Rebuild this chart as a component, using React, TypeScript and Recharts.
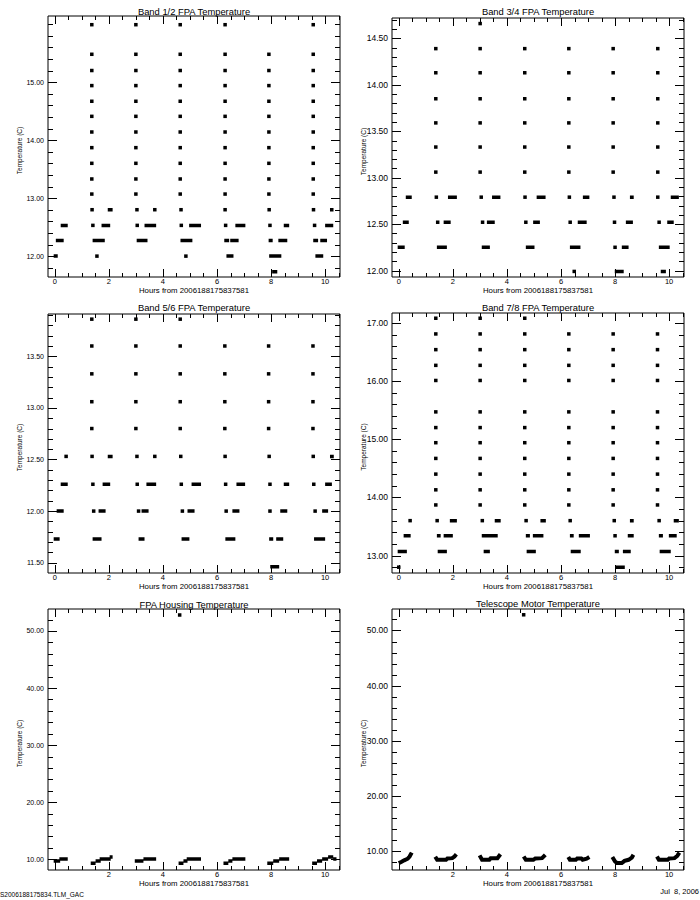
import React from "react";
import { ComposedChart, Scatter, Line, XAxis, YAxis } from "recharts";

const FONT = "'Liberation Sans', Arial, Helvetica, sans-serif";
const X_DOMAIN: [number, number] = [-0.25, 10.55];
const X_MAJOR = [0, 2, 4, 6, 8, 10];
const X_LABELS_NO0 = [2, 4, 6, 8, 10];
const HOURS_LABEL = "Hours from 2006188175837581";
const Y_LABEL = "Temperature (C)";

// ---- Band 1/2 ----
const b12ColX = [1.37, 3.0, 4.64, 6.3, 7.92, 9.56];
const b12ColLevels = [
  [15.99, 15.48, 15.2, 14.94, 14.67, 14.41, 14.14, 13.87, 13.6, 13.33, 13.07],
  [15.99, 15.48, 15.2, 14.94, 14.67, 14.41, 14.14, 13.87, 13.6, 13.33, 13.07],
  [15.99, 15.48, 15.2, 14.94, 14.67, 14.41, 14.14, 13.87, 13.6, 13.33, 13.07],
  [15.99, 15.48, 15.2, 14.94, 14.67, 14.41, 14.14, 13.87, 13.6, 13.33, 13.07],
  [15.48, 15.2, 14.94, 14.67, 14.41, 14.14, 13.87, 13.6, 13.33, 13.07],
  [15.99, 15.48, 15.2, 14.94, 14.67, 14.41, 14.14, 13.87, 13.6, 13.33, 13.07],
];
const b12Dots = [
  [1.38, 12.8], [3.04, 12.8], [3.7, 12.8], [4.67, 12.8], [6.3, 12.8], [7.93, 12.8], [9.57, 12.8],
  [1.41, 12.53], [3.05, 12.53], [4.68, 12.53], [6.32, 12.53], [7.96, 12.53], [9.61, 12.53],
  [1.56, 12.0], [4.85, 12.0],
];
const b12Runs = [
  [1.96, 2.14, 12.8], [10.18, 10.31, 12.8],
  [0.22, 0.48, 12.53], [1.73, 2.05, 12.53], [3.32, 3.75, 12.53], [4.97, 5.41, 12.53],
  [6.68, 7.05, 12.53], [8.47, 8.67, 12.53], [10.0, 10.3, 12.53],
  [0.04, 0.33, 12.27], [1.4, 1.85, 12.27], [3.03, 3.43, 12.27], [4.65, 5.09, 12.27],
  [6.27, 6.45, 12.27], [6.49, 6.8, 12.27], [7.91, 8.06, 12.27], [8.27, 8.6, 12.27],
  [9.56, 9.74, 12.27], [9.82, 10.07, 12.27],
  [-0.04, 0.11, 12.0], [6.35, 6.61, 12.0], [7.93, 8.38, 12.0], [9.64, 9.93, 12.0],
  [8.04, 8.23, 11.73],
];

// ---- Band 3/4 ----
const b34ColX = [1.37, 3.01, 4.66, 6.29, 7.93, 9.58];
const b34ColLevels = [
  [14.39, 14.13, 13.85, 13.59, 13.33, 13.06],
  [14.66, 14.39, 14.13, 13.85, 13.59, 13.33, 13.06],
  [14.39, 14.13, 13.85, 13.59, 13.33, 13.06],
  [14.39, 14.13, 13.85, 13.59, 13.33, 13.06],
  [14.39, 14.13, 13.85, 13.59, 13.33, 13.06],
  [14.39, 14.13, 13.85, 13.59, 13.33, 13.06],
];
const b34Dots = [
  [1.39, 12.79], [3.05, 12.79], [4.67, 12.79], [6.31, 12.79], [7.96, 12.79], [9.58, 12.79],
  [1.44, 12.52], [3.1, 12.52], [4.7, 12.52], [6.34, 12.52], [7.98, 12.52], [9.63, 12.52],
  [8.0, 12.25], [6.49, 11.99],
];
const b34Runs = [
  [0.26, 0.48, 12.79], [1.82, 2.15, 12.79], [3.45, 3.76, 12.79], [5.1, 5.43, 12.79],
  [6.81, 7.05, 12.79], [8.55, 8.69, 12.79], [10.06, 10.36, 12.79],
  [0.15, 0.37, 12.52], [1.66, 1.92, 12.52], [3.26, 3.55, 12.52], [4.97, 5.22, 12.52],
  [6.62, 6.95, 12.52], [8.4, 8.66, 12.52], [9.93, 10.17, 12.52],
  [-0.04, 0.22, 12.25], [1.41, 1.78, 12.25], [3.07, 3.37, 12.25], [4.7, 5.02, 12.25],
  [6.33, 6.72, 12.25], [8.25, 8.5, 12.25], [9.62, 10.02, 12.25],
  [7.99, 8.32, 11.99], [9.69, 9.88, 11.99],
];

// ---- Band 5/6 ----
const b56ColX = [1.37, 3.0, 4.64, 6.29, 7.91, 9.55];
const b56ColLevels = [
  [13.86, 13.6, 13.33, 13.06, 12.8],
  [13.86, 13.6, 13.33, 13.06, 12.8],
  [13.86, 13.6, 13.33, 13.06, 12.8],
  [13.6, 13.33, 13.06, 12.8],
  [13.6, 13.33, 13.06, 12.8],
  [13.6, 13.33, 13.06, 12.8],
];
const b56Dots = [
  [0.42, 12.53], [1.38, 12.53], [3.04, 12.53], [3.7, 12.53], [4.66, 12.53], [6.3, 12.53],
  [7.93, 12.53], [9.56, 12.53],
  [1.41, 12.26], [3.05, 12.26], [4.68, 12.26], [6.32, 12.26], [7.96, 12.26], [9.58, 12.26],
  [1.44, 12.0], [3.1, 12.0], [4.72, 12.0], [6.34, 12.0], [7.96, 12.0], [9.63, 12.0],
];
const b56Runs = [
  [1.96, 2.14, 12.53], [10.18, 10.32, 12.53],
  [0.22, 0.48, 12.26], [1.77, 2.05, 12.26], [3.39, 3.75, 12.26], [5.06, 5.41, 12.26],
  [6.72, 7.04, 12.26], [8.47, 8.67, 12.26], [10.0, 10.25, 12.26],
  [0.07, 0.33, 12.0], [1.62, 1.88, 12.0], [3.21, 3.47, 12.0], [4.91, 5.17, 12.0],
  [6.57, 6.83, 12.0], [8.34, 8.6, 12.0], [9.89, 10.11, 12.0],
  [-0.04, 0.18, 11.73], [1.4, 1.73, 11.73], [3.1, 3.32, 11.73], [4.69, 4.98, 11.73],
  [6.31, 6.68, 11.73], [7.93, 8.08, 11.73], [8.19, 8.45, 11.73], [9.59, 10.0, 11.73],
  [7.97, 8.3, 11.46],
];

// ---- Band 7/8 ----
const b78ColX = [1.37, 3.01, 4.66, 6.29, 7.93, 9.57];
const b78ColLevels = [
  [17.08, 16.81, 16.54, 16.27, 16.01, 15.47, 15.2, 14.94, 14.67, 14.4, 14.13, 13.87],
  [17.08, 16.81, 16.54, 16.27, 16.01, 15.47, 15.2, 14.94, 14.67, 14.4, 14.13, 13.87],
  [17.08, 16.81, 16.54, 16.27, 16.01, 15.47, 15.2, 14.94, 14.67, 14.4, 14.13, 13.87],
  [16.81, 16.54, 16.27, 16.01, 15.47, 15.2, 14.94, 14.67, 14.4, 14.13, 13.87],
  [16.81, 16.54, 16.27, 16.01, 15.47, 15.2, 14.94, 14.67, 14.4, 14.13, 13.87],
  [16.81, 16.54, 16.27, 16.01, 15.47, 15.2, 14.94, 14.67, 14.4, 14.13, 13.87],
];
const b78Dots = [
  [0.42, 13.6], [1.42, 13.6], [3.09, 13.6], [4.71, 13.6], [6.34, 13.6], [7.97, 13.6], [9.63, 13.6],
  [8.0, 13.34], [0.0, 12.8],
];
const b78Runs = [
  [1.89, 2.15, 13.6], [3.55, 3.77, 13.6], [5.24, 5.44, 13.6], [8.55, 8.69, 13.6], [10.17, 10.36, 13.6],
  [0.18, 0.44, 13.34], [1.41, 1.55, 13.34], [1.66, 2.0, 13.34], [3.07, 3.66, 13.34],
  [4.7, 4.85, 13.34], [4.96, 5.35, 13.34], [6.33, 6.47, 13.34], [6.66, 7.07, 13.34],
  [8.47, 8.69, 13.34], [9.62, 9.77, 13.34], [9.99, 10.28, 13.34],
  [-0.04, 0.3, 13.07], [1.44, 1.78, 13.07], [3.14, 3.37, 13.07], [4.73, 5.07, 13.07],
  [6.36, 6.73, 13.07], [7.99, 8.14, 13.07], [8.29, 8.58, 13.07], [9.65, 10.06, 13.07],
  [8.03, 8.36, 12.8],
];

// ---- FPA Housing ----
const housingDots = [[4.62, 52.8]];
const housingRuns = [
  [-0.04, 0.2, 9.7], [0.17, 0.48, 10.05],
  [1.33, 1.51, 9.3], [1.51, 1.7, 9.7], [1.66, 2.07, 10.05], [2.03, 2.14, 10.4],
  [2.96, 3.28, 9.7], [3.28, 3.75, 10.05],
  [4.58, 4.76, 9.3], [4.76, 4.91, 9.7], [4.88, 5.41, 10.05],
  [6.24, 6.42, 9.3], [6.42, 6.57, 9.7], [6.57, 7.05, 10.05],
  [7.86, 8.08, 9.3], [8.08, 8.3, 9.7], [8.3, 8.67, 10.05],
  [9.52, 9.7, 9.3], [9.7, 9.89, 9.7], [9.89, 10.11, 10.05], [10.11, 10.3, 10.4], [10.3, 10.42, 10.05],
];

// ---- Telescope Motor ----
const motorDots = [[4.62, 52.85]];
const motorCurves = [
  [[0.0, 7.8], [0.09, 8.0], [0.2, 8.3], [0.33, 8.6], [0.4, 9.0], [0.48, 9.7]],
  [[1.35, 8.95], [1.42, 8.4], [1.75, 8.4], [1.8, 8.65], [1.98, 8.7], [2.06, 9.0], [2.13, 9.4]],
  [[2.99, 9.2], [3.08, 8.4], [3.35, 8.4], [3.4, 8.7], [3.65, 8.7], [3.76, 9.4]],
  [[4.62, 9.0], [4.7, 8.4], [4.98, 8.4], [5.05, 8.65], [5.3, 8.7], [5.42, 9.3]],
  [[6.27, 8.9], [6.33, 8.4], [6.55, 8.4], [6.6, 8.65], [6.75, 8.65], [6.8, 8.4], [6.95, 8.6], [7.05, 8.9]],
  [[7.9, 8.9], [8.0, 8.1], [8.07, 7.8], [8.25, 7.8], [8.35, 8.2], [8.5, 8.4], [8.62, 8.8], [8.68, 9.3]],
  [[9.55, 9.0], [9.62, 8.4], [9.95, 8.4], [10.0, 8.65], [10.2, 8.7], [10.3, 9.1], [10.38, 9.7]],
];

// ---- helpers ----
const colPoints = (xs: number[], levels: number[][]) =>
  xs.flatMap((x, i) => levels[i].map((y) => ({ x, y })));
const pairPoints = (arr: number[][]) => arr.map(([x, y]) => ({ x, y }));
const runPoints = (runs: number[][]) =>
  runs.flatMap(([x1, x2, y]) => [{ x: x1, y }, { x: x2, y }, { x: x2, y: null }]);
const curvePoints = (curves: number[][][]) =>
  curves.flatMap((c) => [...c.map(([x, y]) => ({ x, y })), { x: c[c.length - 1][0], y: null }]);

function stepTicks(lo: number, hi: number, step: number) {
  const out: number[] = [];
  for (let k = Math.ceil(lo / step - 1e-9); k * step <= hi + 1e-9; k++) {
    out.push(Math.round(k * step * 1000) / 1000);
  }
  return out;
}
const isIn = (v: number, list: number[]) => list.some((m) => Math.abs(m - v) < 1e-6);

const Square = (p: any) => <rect x={p.cx - 1.75} y={p.cy - 1.75} width={3.5} height={3.5} fill="#000" />;

// inward tick marks on all four sides of the frame, placed through the axis scales
const TickMark = (p: any) => {
  const d = p.payload ?? p;
  const len = d.len as number;
  const cx = Math.round(p.cx);
  const cy = Math.round(p.cy);
  if (d.side === "b") return <rect x={cx} y={cy - len} width={1} height={len} fill="#000" />;
  if (d.side === "t") return <rect x={cx} y={cy} width={1} height={len} fill="#000" />;
  if (d.side === "l") return <rect x={cx} y={cy} width={len} height={1} fill="#000" />;
  return <rect x={cx - len} y={cy} width={len} height={1} fill="#000" />;
};

type PanelCfg = {
  title: string;
  titleY: number;
  left: number;
  top: number;
  height: number;
  // plot-area insets inside the 350 px wide box
  margin: { top: number; right: number; bottom: number; left: number };
  yDomain: [number, number];
  yMajor: number[];
  yMinor: number;
  yFont: number;
  xLabels: number[];
  dots: { x: number; y: number }[];
  lines: { x: number; y: number | null }[];
  lineWidth: number;
};

const panels: PanelCfg[] = [
  {
    title: "Band 1/2 FPA Temperature", titleY: 11, left: 0, top: 0, height: 298,
    margin: { top: 16, right: 10, bottom: 21, left: 48 },
    yDomain: [11.64, 16.14], yMajor: [12, 13, 14, 15], yMinor: 0.2, yFont: 7, xLabels: X_MAJOR,
    dots: [...colPoints(b12ColX, b12ColLevels), ...pairPoints(b12Dots)],
    lines: runPoints(b12Runs), lineWidth: 3.5,
  },
  {
    title: "Band 3/4 FPA Temperature", titleY: 11, left: 350, top: 0, height: 298,
    margin: { top: 18, right: 16, bottom: 21, left: 42 },
    yDomain: [11.93, 14.72], yMajor: [12, 12.5, 13, 13.5, 14, 14.5], yMinor: 0.1, yFont: 8.5, xLabels: X_MAJOR,
    dots: [...colPoints(b34ColX, b34ColLevels), ...pairPoints(b34Dots)],
    lines: runPoints(b34Runs), lineWidth: 3.5,
  },
  {
    title: "Band 5/6 FPA Temperature", titleY: 307, left: 0, top: 298, height: 298,
    margin: { top: 16, right: 10, bottom: 23, left: 48 },
    yDomain: [11.4, 13.91], yMajor: [11.5, 12, 12.5, 13, 13.5], yMinor: 0.1, yFont: 7, xLabels: X_MAJOR,
    dots: [...colPoints(b56ColX, b56ColLevels), ...pairPoints(b56Dots)],
    lines: runPoints(b56Runs), lineWidth: 3.5,
  },
  {
    title: "Band 7/8 FPA Temperature", titleY: 307, left: 350, top: 298, height: 298,
    margin: { top: 15, right: 16, bottom: 23, left: 42 },
    yDomain: [12.7, 17.17], yMajor: [13, 14, 15, 16, 17], yMinor: 0.2, yFont: 8.5, xLabels: X_MAJOR,
    dots: [...colPoints(b78ColX, b78ColLevels), ...pairPoints(b78Dots)],
    lines: runPoints(b78Runs), lineWidth: 3.5,
  },
  {
    title: "FPA Housing Temperature", titleY: 604, left: 0, top: 596, height: 304,
    margin: { top: 13, right: 10, bottom: 30, left: 48 },
    yDomain: [8.13, 53.85], yMajor: [10, 20, 30, 40, 50], yMinor: 2, yFont: 7, xLabels: X_LABELS_NO0,
    dots: pairPoints(housingDots),
    lines: runPoints(housingRuns), lineWidth: 3.5,
  },
  {
    title: "Telescope Motor Temperature", titleY: 603, left: 350, top: 596, height: 304,
    margin: { top: 13, right: 16, bottom: 30, left: 42 },
    yDomain: [6.55, 53.9], yMajor: [10, 20, 30, 40, 50], yMinor: 2, yFont: 8.5, xLabels: X_LABELS_NO0,
    dots: pairPoints(motorDots),
    lines: curvePoints(motorCurves), lineWidth: 4,
  },
];

function Panel({ cfg }: { cfg: PanelCfg }) {
  const xTicks = stepTicks(0, 10.5, 0.5);
  const yTicks = stepTicks(cfg.yDomain[0], cfg.yDomain[1], cfg.yMinor);
  const black = { stroke: "#000" };
  // axes are 1px thick, so the chart margin is one pixel less than the plot inset
  const m = cfg.margin;
  const chartMargin = { top: m.top - 1, right: m.right - 1, bottom: m.bottom - 1, left: m.left - 1 };

  const marks = [
    ...xTicks.map((v) => ({ x: v, y: cfg.yDomain[0], side: "b", len: isIn(v, X_MAJOR) ? 8 : 4 })),
    ...xTicks.map((v) => ({ x: v, y: cfg.yDomain[1], side: "t", len: isIn(v, X_MAJOR) ? 8 : 4 })),
    ...yTicks.map((v) => ({ x: X_DOMAIN[0], y: v, side: "l", len: isIn(v, cfg.yMajor) ? 9 : 5 })),
    ...yTicks.map((v) => ({ x: X_DOMAIN[1], y: v, side: "r", len: isIn(v, cfg.yMajor) ? 9 : 5 })),
  ];

  const bottomTick = (p: any) => {
    const v = p.payload.value;
    if (!isIn(v, cfg.xLabels)) return <g />;
    return (
      <text x={p.x} y={p.y + 4.5} textAnchor="middle" dominantBaseline="central" fontSize={7.5} fontFamily={FONT} fill="#000">
        {v}
      </text>
    );
  };
  const leftTick = (p: any) => {
    const v = p.payload.value;
    if (!isIn(v, cfg.yMajor)) return <g />;
    return (
      <text x={p.x - 4} y={p.y} textAnchor="end" dominantBaseline="central" fontSize={cfg.yFont} fontFamily={FONT} fill="#000">
        {v.toFixed(2)}
      </text>
    );
  };

  return (
    <div style={{ position: "absolute", left: cfg.left, top: cfg.top }}>
      <ComposedChart width={350} height={cfg.height} margin={chartMargin}>
        <XAxis dataKey="x" type="number" domain={X_DOMAIN} allowDataOverflow ticks={cfg.xLabels} interval={0}
          height={1} tickSize={0} tickMargin={0} tickLine={false} axisLine={black} tick={bottomTick} />
        <XAxis xAxisId="t" orientation="top" type="number" domain={X_DOMAIN} allowDataOverflow
          height={1} tickLine={false} axisLine={black} tick={false} />
        <YAxis dataKey="y" type="number" domain={cfg.yDomain} allowDataOverflow ticks={cfg.yMajor} interval={0}
          width={1} tickSize={0} tickMargin={0} tickLine={false} axisLine={black} tick={leftTick} />
        <YAxis yAxisId="r" orientation="right" type="number" domain={cfg.yDomain} allowDataOverflow
          width={1} tickLine={false} axisLine={black} tick={false} />
        <Scatter data={marks} shape={TickMark} isAnimationActive={false} />
        <Line data={cfg.lines} dataKey="y" stroke="#000" strokeWidth={cfg.lineWidth} dot={false} activeDot={false}
          connectNulls={false} isAnimationActive={false} />
        <Scatter data={cfg.dots} shape={Square} isAnimationActive={false} />
      </ComposedChart>
    </div>
  );
}

export default function App() {
  return (
    <div style={{ position: "absolute", left: 0, top: 0, width: 700, height: 900, background: "#fff", overflow: "hidden" }}>
      {panels.map((cfg) => (
        <Panel key={cfg.title} cfg={cfg} />
      ))}
      <svg width={700} height={900} style={{ position: "absolute", left: 0, top: 0, pointerEvents: "none" }}>
        {panels.map((cfg) => {
          const pl = cfg.left + cfg.margin.left;
          const pr = cfg.left + 350 - cfg.margin.right;
          const pt = cfg.top + cfg.margin.top;
          const pb = cfg.top + cfg.height - cfg.margin.bottom;
          const cx = (pl + pr) / 2;
          const cy = (pt + pb) / 2 + 4;
          return (
            <g key={cfg.title} fontFamily={FONT} fill="#000">
              <text x={cx} y={cfg.titleY} textAnchor="middle" dominantBaseline="central" fontSize={9.4}>
                {cfg.title}
              </text>
              <text x={cx} y={pb + 13.5} textAnchor="middle" dominantBaseline="central" fontSize={7.8}>
                {HOURS_LABEL}
              </text>
              <text x={pl - 28.5} y={cy} textAnchor="middle" dominantBaseline="central" fontSize={6.5}
                transform={`rotate(-90 ${pl - 28.5} ${cy})`}>
                {Y_LABEL}
              </text>
            </g>
          );
        })}
        <text x={0} y={894} dominantBaseline="central" fontSize={6.5} fontFamily={FONT} fill="#000">
          S2006188175834.TLM_GAC
        </text>
        <text x={699} y={891} textAnchor="end" dominantBaseline="central" fontSize={7.5} fontFamily={FONT} fill="#000"
          style={{ whiteSpace: "pre" }}>
          Jul  8, 2006
        </text>
      </svg>
    </div>
  );
}
